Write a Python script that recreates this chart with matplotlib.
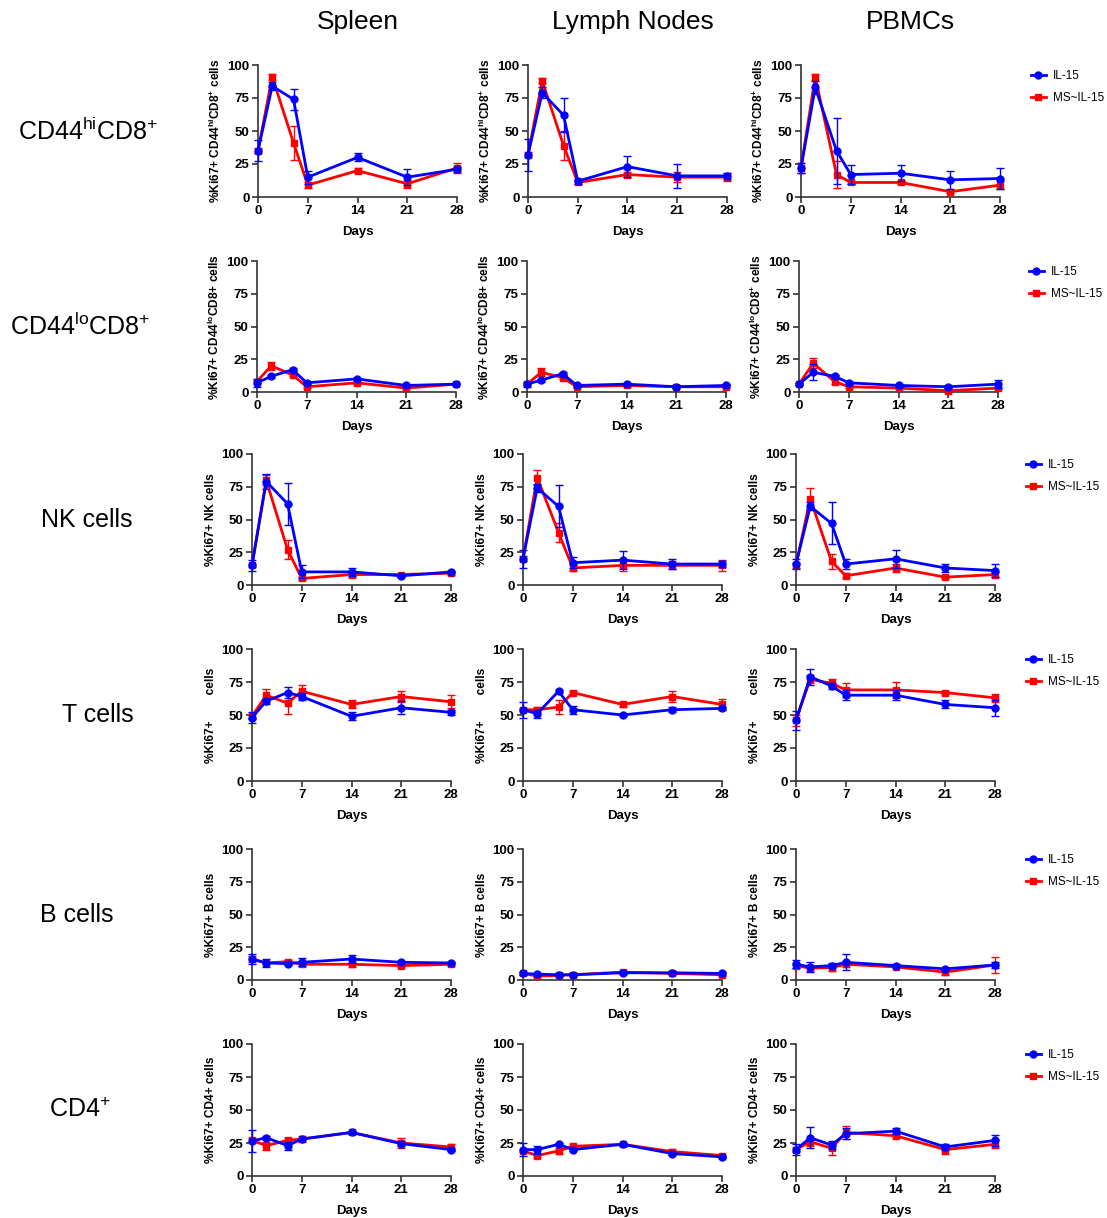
import matplotlib
matplotlib.use("Agg")
import matplotlib.pyplot as plt
from matplotlib.lines import Line2D

plt.rcParams['font.family'] = ['Liberation Sans', 'DejaVu Sans']
plt.rcParams['mathtext.fontset'] = 'custom'
plt.rcParams['mathtext.rm'] = 'Liberation Sans'
plt.rcParams['mathtext.bf'] = 'Liberation Sans:bold'
plt.rcParams['mathtext.it'] = 'Liberation Sans:italic'

days = [0, 2, 5, 7, 14, 21, 28]
tissues = ["Spleen", "Lymph Nodes", "PBMCs"]
row_names = ["CD44$^{\\mathrm{hi}}$CD8$^{+}$", "CD44$^{\\mathrm{lo}}$CD8$^{+}$", "NK cells",
             "T cells", "B cells", "CD4$^{+}$"]
series_names = ["IL-15", "MS~IL-15"]

# ---- Row 1: CD44hi CD8+ ----
cd44hi_il15 = [[35, 84, 74, 15, 30, 15, 21], [32, 79, 62, 12, 23, 16, 16], [22, 83, 35, 17, 18, 13, 14]]
cd44hi_il15_err = [[8, 3, 8, 5, 3, 6, 2], [12, 4, 13, 2, 8, 9, 2], [4, 5, 25, 7, 6, 7, 8]]
cd44hi_ms = [[35, 91, 41, 9, 20, 10, 22], [32, 88, 39, 11, 17, 15, 15], [22, 91, 17, 11, 11, 4, 9]]
cd44hi_ms_err = [[2, 2, 13, 2, 2, 3, 4], [2, 2, 11, 1, 2, 4, 3], [4, 2, 10, 1, 1, 1, 3]]

# ---- Row 2: CD44lo CD8+ ----
cd44lo_il15 = [[7, 12, 17, 7, 10, 5, 6], [6, 9, 14, 5, 6, 4, 5], [6, 15, 12, 7, 5, 4, 6]]
cd44lo_il15_err = [[3, 1, 1, 1, 1, 1, 1], [2, 1, 1, 1, 1, 1, 1], [1, 6, 1, 1, 1, 1, 3]]
cd44lo_ms = [[8, 20, 13, 4, 7, 3, 6], [6, 15, 11, 4, 5, 4, 4], [6, 22, 8, 4, 3, 1, 3]]
cd44lo_ms_err = [[1, 3, 1, 1, 1, 1, 1], [1, 3, 1, 1, 1, 1, 1], [1, 4, 2, 1, 1, 1, 1]]

# ---- Row 3: NK cells ----
nk_il15 = [[15, 79, 62, 10, 10, 7, 10], [20, 74, 60, 17, 19, 16, 16], [16, 60, 47, 16, 20, 13, 11]]
nk_il15_err = [[4, 6, 16, 5, 3, 1, 1], [7, 3, 16, 4, 7, 4, 2], [4, 3, 16, 4, 7, 3, 5]]
nk_ms = [[15, 80, 27, 5, 8, 8, 9], [20, 82, 40, 13, 15, 15, 15], [15, 66, 18, 7, 13, 6, 8]]
nk_ms_err = [[1, 4, 7, 1, 2, 1, 1], [2, 6, 7, 2, 4, 3, 4], [2, 8, 6, 2, 3, 1, 2]]

# ---- Row 4: T cells ----
t_il15 = [[48, 60.5, 67, 64, 49, 55.5, 52], [54, 51, 68, 54, 50, 54, 55], [46, 79, 72, 65, 65, 58, 55.5]]
t_il15_err = [[4, 2, 4, 3, 3, 5, 2], [6, 3, 1, 3, 1, 2, 1], [7, 6, 2, 4, 4, 3, 6]]
t_ms = [[49, 65, 59, 68, 58, 64, 60], [54, 54, 56, 67, 58, 64, 58], [46, 77, 74, 69, 69, 67, 63]]
t_ms_err = [[2, 5, 8, 5, 3, 4, 5], [1, 2, 5, 1, 2, 4, 4], [4, 3, 3, 5, 6, 1, 3]]

# ---- Row 5: B cells ----
b_il15 = [[16, 13, 12.5, 13.5, 16, 13.5, 13], [5, 4.5, 4, 4, 5.5, 5.5, 5], [12, 10, 11, 13.5, 11, 8.5, 11.5]]
b_il15_err = [[4, 3, 1, 3, 3, 1, 1], [1, 1, 1, 1, 1, 1, 1], [3, 4, 2, 6, 1, 1, 2]]
b_ms = [[16, 13, 14, 12, 12, 11, 12], [5, 3, 3.5, 4, 6, 5, 4], [11, 9, 9.5, 12, 10, 6, 11.5]]
b_ms_err = [[2, 1, 1, 1, 2, 1, 1], [1, 1, 1, 1, 1, 1, 1], [2, 2, 3, 2, 1, 2, 6]]

# ---- Row 6: CD4+ ----
cd4_il15 = [[26.5, 29, 23, 28, 33, 24.5, 20], [20, 20, 24, 20, 24, 17, 14.5], [20, 29, 23.5, 32, 34, 22, 27]]
cd4_il15_err = [[8, 1, 3, 1, 1, 2, 1], [5, 3, 1, 1, 1, 1, 1], [4, 8, 3, 4, 2, 2, 4]]
cd4_ms = [[27, 23, 27, 28, 33, 25, 22], [19, 15.5, 19, 22.5, 24, 18.5, 15.5], [20, 26, 21, 33, 30.5, 20, 24]]
cd4_ms_err = [[2, 3, 2, 2, 1, 4, 2], [1, 1, 2, 1, 1, 2, 1], [2, 3, 5, 5, 2, 3, 3]]

rows = [
    (cd44hi_il15, cd44hi_il15_err, cd44hi_ms, cd44hi_ms_err),
    (cd44lo_il15, cd44lo_il15_err, cd44lo_ms, cd44lo_ms_err),
    (nk_il15, nk_il15_err, nk_ms, nk_ms_err),
    (t_il15, t_il15_err, t_ms, t_ms_err),
    (b_il15, b_il15_err, b_ms, b_ms_err),
    (cd4_il15, cd4_il15_err, cd4_ms, cd4_ms_err),
]

hi_lbl = "%Ki67+ CD44$^{\\mathbf{hi}}$CD8$^{\\mathbf{+}}$ cells"
lo_lbl_a = "%Ki67+ CD44$^{\\mathbf{lo}}$CD8+ cells"
lo_lbl_b = "%Ki67+ CD44$^{\\mathbf{lo}}$CD8$^{\\mathbf{+}}$ cells"
ylabels = [
    [hi_lbl, hi_lbl, hi_lbl],
    [lo_lbl_a, lo_lbl_a, lo_lbl_b],
    ["%Ki67+ NK cells"] * 3,
    ["%Ki67+        cells"] * 3,
    ["%Ki67+ B cells"] * 3,
    ["%Ki67+ CD4+ cells"] * 3,
]

W, H = 1107, 1218
fig = plt.figure(figsize=(W / 100, H / 100), dpi=100)

row_top = [65, 261, 454, 649, 849, 1044]
row_bot = [197, 392, 585, 781, 980, 1176]
col_left = [[258, 528, 801], [257, 527, 799], [252, 523, 796], [252, 523, 796], [252, 523, 796], [252, 523, 796]]
row_label_x = [88, 80, 87, 98, 77, 80]
ax_w = 199

blue = "#0000FF"
red = "#FF0000"
spine_c = "#333333"

for r in range(6):
    il, ile, ms, mse = rows[r]
    for c in range(3):
        x0 = col_left[r][c]
        ax = fig.add_axes([x0 / W, 1 - row_bot[r] / H, ax_w / W, (row_bot[r] - row_top[r]) / H])
        ax.errorbar(days, ms[c], yerr=mse[c], color=red, marker='s', ms=5, lw=2,
                    elinewidth=1, capsize=3, capthick=1, ecolor=red, clip_on=False, zorder=3)
        ax.errorbar(days, il[c], yerr=ile[c], color=blue, marker='o', ms=5, lw=2,
                    elinewidth=1, capsize=3, capthick=1, ecolor=blue, clip_on=False, zorder=4)
        ax.set_xlim(0, 28)
        ax.set_ylim(0, 100)
        ax.set_xticks([0, 7, 14, 21, 28])
        ax.set_yticks([0, 25, 50, 75, 100])
        for s in ['top', 'right']:
            ax.spines[s].set_visible(False)
        for s in ['left', 'bottom']:
            ax.spines[s].set_linewidth(1.2)
            ax.spines[s].set_color(spine_c)
        ax.tick_params(axis='both', length=4, width=1.2, color=spine_c, labelsize=9.5, pad=2)
        for lab in ax.get_xticklabels() + ax.get_yticklabels():
            lab.set_fontweight('bold')
        ax.set_xlabel("Days", fontsize=9.5, fontweight='bold', labelpad=6)
        ax.set_ylabel(ylabels[r][c], fontsize=8.6, fontweight='bold', labelpad=3)
        if c == 2:
            handles = [Line2D([], [], color=blue, marker='o', ms=5, lw=2),
                       Line2D([], [], color=red, marker='s', ms=5, lw=2)]
            ax.legend(handles, series_names, loc='upper left', bbox_to_anchor=(1.1, 1.04),
                      frameon=False, fontsize=8.5, handlelength=1.3, handletextpad=0.6,
                      labelspacing=0.8)
    yc = 1 - (row_top[r] + row_bot[r]) / 2 / H
    fig.text(row_label_x[r] / W, yc, row_names[r], ha='center', va='center', fontsize=18)

col_centers = [358, 633, 910]
for c in range(3):
    fig.text(col_centers[c] / W, 1 - 22 / H, tissues[c], ha='center', va='center', fontsize=19)

fig.savefig("out.png", dpi=100)
